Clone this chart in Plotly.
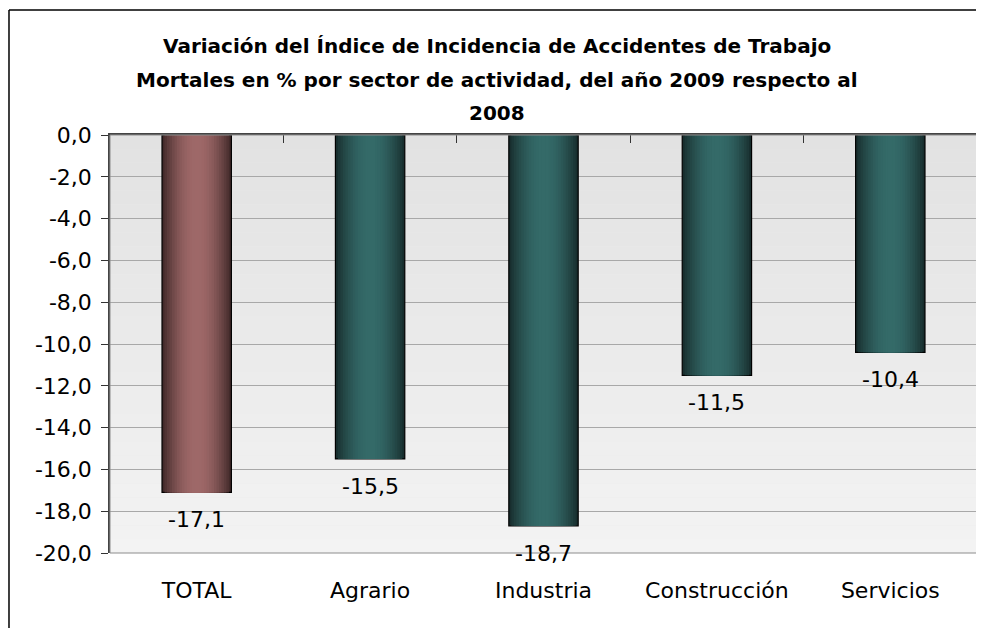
import math
import plotly.graph_objects as go

categories = ["TOTAL", "Agrario", "Industria", "Construcción", "Servicios"]
values = [-17.1, -15.5, -18.7, -11.5, -10.4]
y_ticks = [0, -2, -4, -6, -8, -10, -12, -14, -16, -18, -20]
y_tick_labels = ["%.1f" % v for v in y_ticks]
y_tick_labels = [s.replace(".", ",") for s in y_tick_labels]
title_lines = [
    "Variación del Índice de Incidencia de Accidentes de Trabajo",
    "Mortales en % por sector de actividad, del año 2009 respecto al",
    "2008",
]

# edge / centre colours for the cylinder look
brown = ((66, 42, 42), (158, 104, 104))
teal = ((24, 46, 46), (52, 106, 104))
bar_palette = [brown] + [teal] * 4

FONT = "DejaVu Sans"

fig = go.Figure()

# horizontal gradient on the bars: stacked, narrowing bars
n_layers = 14
bar_w = 0.4
for k in range(n_layers):
    t = k / (n_layers - 1)
    f = math.sin(t * math.pi / 2) ** 0.9
    cols = []
    for dark, light in bar_palette:
        c = [round(d + (l - d) * f) for d, l in zip(dark, light)]
        cols.append("rgb(%d,%d,%d)" % tuple(c))
    fig.add_trace(go.Bar(
        x=categories,
        y=values,
        width=bar_w * (1 - k / n_layers),
        marker=dict(
            color=cols,
            line=dict(color="black", width=1.2 if k == 0 else 0),
        ),
        hoverinfo="skip" if k else None,
        showlegend=False,
    ))

# background gradient for the plot area
n_bands = 30
shapes = []
for i in range(n_bands):
    g = round(226 + (243 - 226) * i / (n_bands - 1))
    shapes.append(dict(
        type="rect", xref="x domain", yref="y domain",
        x0=0, x1=1, y0=1 - (i + 1) / n_bands, y1=1 - i / n_bands,
        fillcolor="rgb(%d,%d,%d)" % (g, g, g), line=dict(width=0),
        layer="below",
    ))
# plot border
shapes.append(dict(
    type="rect", xref="x domain", yref="y domain", x0=0, x1=1, y0=0, y1=1,
    line=dict(color="#8c8c8c", width=1), layer="above",
))
# outer chart frame (only left and top edges are inside the picture)
shapes.append(dict(
    type="line", xref="paper", yref="paper",
    x0=-0.1165, x1=-0.1165, y0=-0.3, y1=1.299,
    line=dict(color="black", width=1.5), layer="above",
))
shapes.append(dict(
    type="line", xref="paper", yref="paper",
    x0=-0.1165, x1=1.0, y0=1.299, y1=1.299,
    line=dict(color="black", width=1.5), layer="above",
))

annotations = []
for i, line in enumerate(title_lines):
    annotations.append(dict(
        text="<b>%s</b>" % line, xref="paper", yref="paper",
        x=0.446, y=1.212 - i * 0.08, showarrow=False,
        font=dict(family=FONT, size=20, color="black"),
        xanchor="center", yanchor="middle",
    ))
for cat, v in zip(categories, values):
    annotations.append(dict(
        text=("%.1f" % v).replace(".", ","), x=cat, y=v,
        xref="x", yref="y", showarrow=False,
        yanchor="top", yshift=-13,
        font=dict(family=FONT, size=22, color="black"),
    ))

fig.update_layout(
    width=976,
    height=620,
    margin=dict(l=102, r=7, t=127, b=75, autoexpand=False),
    paper_bgcolor="white",
    plot_bgcolor="rgb(234,234,234)",
    barmode="overlay",
    showlegend=False,
    shapes=shapes,
    annotations=annotations,
    font=dict(family=FONT, size=22, color="black"),
    xaxis=dict(
        type="category",
        showline=False,
        showgrid=False,
        ticks="",
        ticklabelstandoff=22,
        tickfont=dict(size=22),
        automargin=False,
    ),
    xaxis2=dict(
        overlaying="x",
        side="top",
        anchor="y",
        range=[-0.5, 4.5],
        tickvals=[0.5, 1.5, 2.5, 3.5],
        showticklabels=False,
        ticks="inside",
        ticklen=8,
        tickcolor="#333333",
        showline=True,
        linecolor="#444444",
        linewidth=1.5,
        showgrid=False,
        zeroline=False,
        automargin=False,
    ),
    yaxis=dict(
        range=[-20, 0],
        tickvals=y_ticks,
        ticktext=y_tick_labels,
        ticks="outside",
        ticklen=7,
        tickcolor="#333333",
        showline=True,
        linecolor="#444444",
        linewidth=1.5,
        gridcolor="#a8a8a8",
        gridwidth=1,
        zeroline=False,
        tickfont=dict(size=22),
        ticklabelstandoff=5,
        automargin=False,
    ),
)

# invisible trace so the top axis is drawn
fig.add_trace(go.Scatter(x=[0], y=[0], xaxis="x2", mode="markers",
                         marker=dict(opacity=0), hoverinfo="skip",
                         showlegend=False))

fig.write_html("out.html")
